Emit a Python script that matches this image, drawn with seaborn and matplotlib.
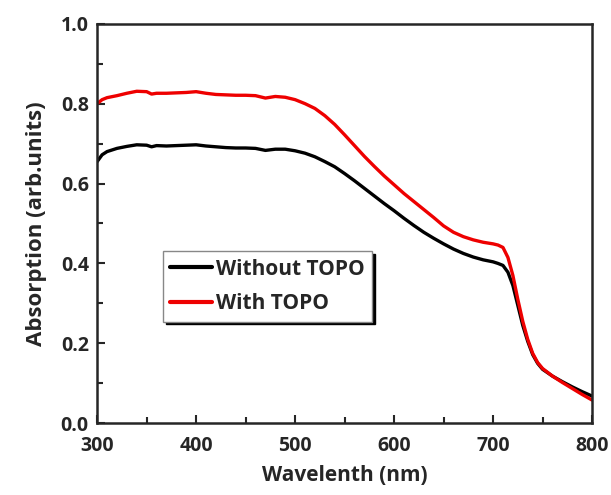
import numpy as np
import pandas as pd
import seaborn as sns
import matplotlib.pyplot as plt
from matplotlib.ticker import MultipleLocator

# wavelength grid (nm)
wavelength = [300, 305, 310, 320, 330, 340, 350, 355, 360, 370, 380, 390, 400, 410, 420,
              430, 440, 450, 460, 470, 480, 490, 500, 510, 520, 530, 540, 550, 560,
              570, 580, 590, 600, 610, 620, 630, 640, 650, 660, 670, 680, 690, 700,
              705, 710, 715, 720, 725, 730, 735, 740, 745, 750, 760, 770, 780, 790, 800]

without_topo = [0.655, 0.672, 0.680, 0.688, 0.693, 0.697, 0.696, 0.692, 0.695, 0.694,
                0.695, 0.696, 0.697, 0.694, 0.692, 0.690, 0.689, 0.689, 0.688, 0.683,
                0.686, 0.686, 0.682, 0.676, 0.667, 0.655, 0.642, 0.625, 0.607, 0.588,
                0.569, 0.550, 0.532, 0.513, 0.495, 0.478, 0.463, 0.449, 0.436, 0.425,
                0.416, 0.409, 0.404, 0.400, 0.395, 0.378, 0.345, 0.295, 0.245, 0.205,
                0.172, 0.150, 0.135, 0.118, 0.104, 0.091, 0.079, 0.068]

with_topo = [0.800, 0.810, 0.815, 0.820, 0.826, 0.831, 0.830, 0.824, 0.826, 0.826,
             0.827, 0.828, 0.830, 0.826, 0.823, 0.822, 0.821, 0.821, 0.820, 0.814,
             0.818, 0.816, 0.810, 0.800, 0.788, 0.770, 0.748, 0.722, 0.695, 0.668,
             0.643, 0.619, 0.597, 0.575, 0.555, 0.535, 0.515, 0.494, 0.478, 0.467,
             0.459, 0.453, 0.449, 0.446, 0.440, 0.415, 0.370, 0.310, 0.255, 0.210,
             0.175, 0.152, 0.137, 0.118, 0.102, 0.087, 0.072, 0.058]

labels = ['Without TOPO', 'With TOPO']
colors = ['black', '#ee0000']

df = pd.concat([
    pd.DataFrame({'wl': wavelength, 'abs': without_topo, 'sample': labels[0]}),
    pd.DataFrame({'wl': wavelength, 'abs': with_topo, 'sample': labels[1]}),
])

sns.set_style('ticks')
plt.rcParams['font.family'] = ['Open Sans', 'DejaVu Sans']
plt.rcParams['font.weight'] = 'bold'

fig = plt.figure(figsize=(6.11, 4.95), dpi=100)
ax = fig.add_axes([0.159, 0.145, 0.81, 0.807])

sns.lineplot(data=df, x='wl', y='abs', hue='sample', palette=colors,
             linewidth=2.4, ax=ax, sort=False)

ax.set_xlim(300, 800)
ax.set_ylim(0, 1.0)
ax.xaxis.set_major_locator(MultipleLocator(100))
ax.xaxis.set_minor_locator(MultipleLocator(50))
ax.yaxis.set_major_locator(MultipleLocator(0.2))
ax.yaxis.set_minor_locator(MultipleLocator(0.1))
ax.tick_params(which='both', direction='in', width=1.5, labelsize=14)
ax.tick_params(which='major', length=6)
ax.tick_params(which='minor', length=4)
ax.tick_params(axis='x', which='major', pad=9)
ax.tick_params(axis='y', which='major', pad=6)
for lab in ax.get_xticklabels() + ax.get_yticklabels():
    lab.set_fontweight('bold')
for s in ax.spines.values():
    s.set_linewidth(1.8)

ax.set_xlabel('Wavelenth (nm)', fontsize=15, fontweight='bold', labelpad=7)
ax.set_ylabel('Absorption (arb.units)', fontsize=16, fontweight='bold', labelpad=10)

leg = ax.legend(loc='upper left', bbox_to_anchor=(0.133, 0.43), borderaxespad=0,
                fancybox=False, shadow={'color': 'black', 'alpha': 1},
                handlelength=2.0, handletextpad=0.2, labelspacing=0.65,
                borderpad=0.35, prop={'size': 15, 'weight': 'bold'})
leg.get_frame().set_edgecolor('#888888')
leg.get_frame().set_linewidth(1.0)
for line in leg.get_lines():
    line.set_linewidth(3)

fig.savefig('out.png', dpi=100)
